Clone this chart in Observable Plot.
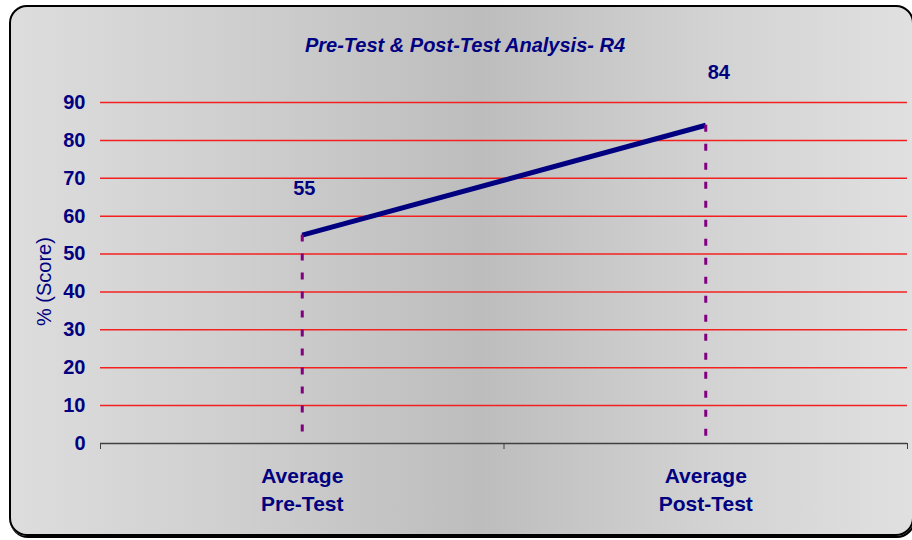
<!DOCTYPE html>
<html>
<head>
<meta charset="utf-8">
<script src="https://cdn.jsdelivr.net/npm/d3@7"></script>
<script src="https://cdn.jsdelivr.net/npm/@observablehq/plot@0.6"></script>
<style>
  html, body { margin: 0; padding: 0; background: #ffffff; }
  #wrap { position: relative; width: 912px; height: 540px; overflow: hidden; font-family: "Liberation Sans", Arial, sans-serif; }
  #frame {
    position: absolute; left: 9px; top: 5px; width: 905px; height: 531px;
    box-sizing: border-box; border: 2px solid #000; border-radius: 18px;
    box-shadow: 1px 2px 0 #000;
    background: linear-gradient(to right, #dddddd 0%, #cfcfcf 25%, #bdbdbd 52%, #d3d3d3 78%, #e0e0e0 100%);
  }
  #chart { position: absolute; left: 0; top: 0; }
</style>
</head>
<body>
<div id="wrap"><div id="frame"></div><div id="chart"></div></div>
<script>
const title = "Pre-Test & Post-Test Analysis- R4";
const yLabel = "% (Score)";
const categories = ["Average\nPre-Test", "Average\nPost-Test"];
const values = [55, 84];
const yTicks = [0, 10, 20, 30, 40, 50, 60, 70, 80, 90];
const gridTicks = [10, 20, 30, 40, 50, 60, 70, 80, 90];
const bandEdges = [-0.5, 0.5, 1.5];

const data = categories.map((c, i) => ({idx: i, cat: c, value: values[i]}));
const navy = "#000080";

const chart = Plot.plot({
  width: 912,
  height: 540,
  marginLeft: 100,
  marginRight: 5,
  marginTop: 102,
  marginBottom: 97,
  style: {background: "transparent", fontFamily: "'Liberation Sans', Arial, sans-serif", overflow: "visible"},
  x: {type: "linear", domain: [-0.5, 1.5], axis: null},
  y: {domain: [0, 90], axis: null},
  marks: [
    Plot.ruleY(gridTicks, {stroke: "#f42020", strokeWidth: 1.5}),
    Plot.ruleY([0], {stroke: "#404040", strokeWidth: 1.5}),
    Plot.axisX({ticks: bandEdges, tickFormat: () => "", tickSize: 6, stroke: "#404040", label: null}),
    Plot.line(data, {x: "idx", y: "value", stroke: navy, strokeWidth: 5, strokeLinecap: "butt"}),
    Plot.ruleX(data, {x: "idx", y1: "value", y2: 0, stroke: "#800080", strokeWidth: 3, strokeDasharray: "7,12"}),
    Plot.text([data[0]], {x: "idx", y: "value", text: d => String(d.value), dx: 2, dy: -47, fontSize: 20, fontWeight: "bold", fill: navy}),
    Plot.text([data[1]], {x: "idx", y: "value", text: d => String(d.value), dx: 13, dy: -53, fontSize: 20, fontWeight: "bold", fill: navy}),
    Plot.axisY({ticks: yTicks, tickSize: 0, tickPadding: 15, fontSize: 20, fontWeight: "bold", fill: navy, label: null}),
    Plot.text(data, {x: "idx", text: "cat", frameAnchor: "bottom", lineAnchor: "top", dy: 19, fontSize: 21, fontWeight: "bold", fill: navy, lineHeight: 1.35}),
    Plot.text([yLabel], {frameAnchor: "left", dx: -56, dy: 53, rotate: -90, fontSize: 20, fill: navy}),
    Plot.text([title], {frameAnchor: "top", dx: -39, dy: -65, fontSize: 20, fontStyle: "italic", fontWeight: "bold", fill: navy})
  ]
});
document.getElementById("chart").appendChild(chart);
</script>
</body>
</html>
